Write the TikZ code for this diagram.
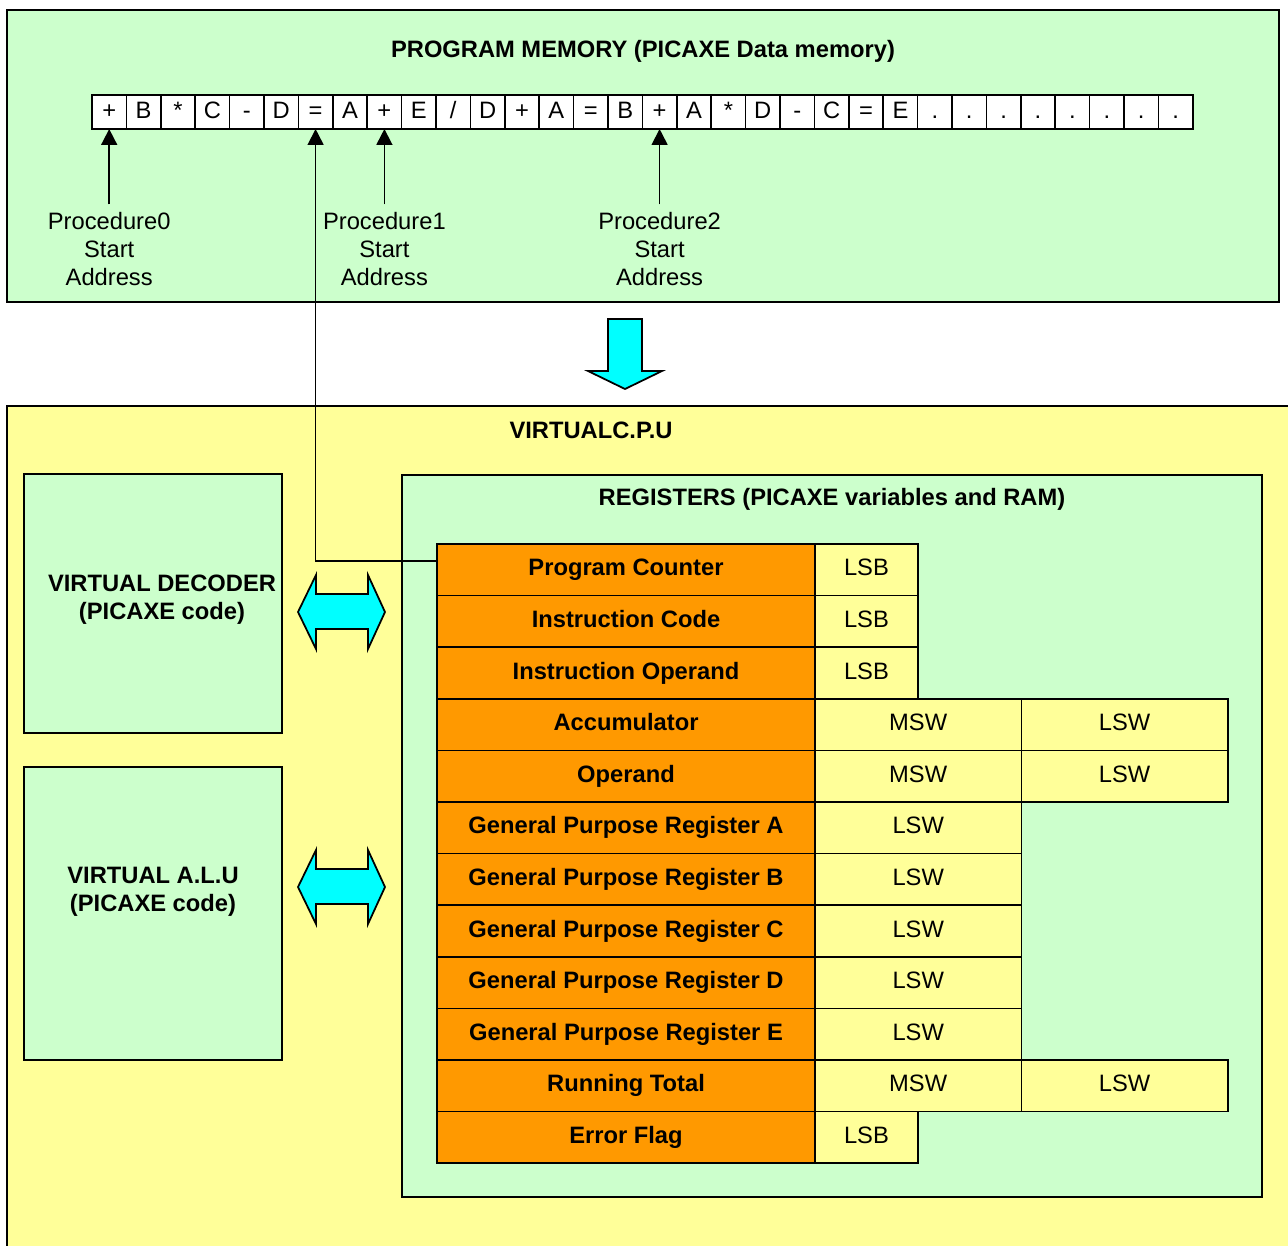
\documentclass[tikz,border=0pt]{standalone}
\usepackage{fontspec}
\setmainfont{Liberation Sans}
\usetikzlibrary{arrows.meta}

\definecolor{memgreen}{HTML}{CCFFCC}
\definecolor{cpuyellow}{HTML}{FFFF99}
\definecolor{regorange}{HTML}{FF9900}
\definecolor{buscyan}{RGB}{0,255,255}

\begin{document}
\fontsize{13.5}{15.8}\selectfont
\begin{tikzpicture}[x=0.02cm, y=-0.02cm]
        \tikzset{box/.style={draw, line width=1.1pt},
                 cell/.style={draw, line width=0.9pt, fill=white, minimum width=0.688cm, minimum height=0.68cm, inner sep=0pt, outer sep=0pt, text height=9.7pt, text depth=2.8pt},
                 regname/.style={draw, line width=0.9pt, fill=regorange, minimum width=7.56cm, minimum height=1.032cm, inner sep=0pt, outer sep=0pt, text height=9.7pt, text depth=2.8pt, font=\bfseries},
                 lsbcell/.style={draw, line width=0.9pt, fill=cpuyellow, minimum width=2.06cm, minimum height=1.032cm, inner sep=0pt, outer sep=0pt, text height=9.7pt, text depth=2.8pt, anchor=west},
                 wordcell/.style={lsbcell, minimum width=4.13cm},
                 pointer/.style={-{Triangle[length=9pt, width=9pt]}, line width=1pt},
                 bus/.style={draw, line width=1pt, fill=buscyan, line join=miter}}
        \useasboundingbox (0,0) rectangle (1288,1245);
        % program memory
        \draw[box, fill=memgreen] (7,10) rectangle (1279,302);
        \node[font=\bfseries] (memtitle) at (643,51) {PROGRAM MEMORY (PICAXE Data memory)};
        \foreach \s [count=\k from 0] in {+,B,*,C,-,D,=,A,+,E,/,D,+,A,=,B,+,A,*,D,-,C,=,E,.,.,.,.,.,.,.,.}
            \node[cell] (m\k) at ({109.2+34.4*\k},112) {\s};
        \node[align=center] (p0) at (m0 |- 0,249) {Procedure0\\Start\\Address};
        \node[align=center] (p1) at (m8 |- 0,249) {Procedure1\\Start\\Address};
        \node[align=center] (p2) at (m16 |- 0,249) {Procedure2\\Start\\Address};
        \draw[pointer] (p0) -- (m0);
        \draw[pointer] (p1) -- (m8);
        \draw[pointer] (p2) -- (m16);
        % transfer arrow
        \draw[bus] (608,319) -- (642,319) -- (642,371) -- (662,371) -- (625,389) -- (588,371) -- (608,371) -- cycle;
        % virtual cpu
        \draw[box, fill=cpuyellow] (7,406) rectangle (1320,1280);
        \node[font=\bfseries] (cputitle) at (591,430) {VIRTUALC.P.U};
        \draw[box, fill=memgreen] (24,474) rectangle (282,733);
        \node[font=\bfseries, align=center] (dectext) at (162,600) {VIRTUAL DECODER\\(PICAXE code)};
        \draw[box, fill=memgreen] (24,767) rectangle (282,1060);
        \node[font=\bfseries, align=center] (alutext) at (153,892) {VIRTUAL A.L.U\\(PICAXE code)};
        \foreach \yc in {612,887}
            \draw[bus] (298,\yc) -- (316,{\yc-37}) -- (316,{\yc-18}) -- (368,{\yc-18}) -- (368,{\yc-37}) -- (385,\yc)
                -- (368,{\yc+37}) -- (368,{\yc+17}) -- (316,{\yc+17}) -- (316,{\yc+37}) -- cycle;
        % registers
        \draw[box, fill=memgreen] (402,475) rectangle (1262,1197);
        \node[font=\bfseries] (regtitle) at (832,499) {REGISTERS (PICAXE variables and RAM)};
        \foreach \i/\txt in {1/Program Counter, 2/Instruction Code, 3/Instruction Operand, 4/Accumulator,
                             5/Operand, 6/General Purpose Register A, 7/General Purpose Register B,
                             8/General Purpose Register C, 9/General Purpose Register D,
                             10/General Purpose Register E, 11/Running Total, 12/Error Flag}
            \node[regname] (reg\i) at (626,{544+51.6*(\i-0.5)}) {\txt};
        \foreach \i in {1,2,3,12}
            \node[lsbcell] (lsb\i) at (reg\i.east) {LSB};
        \foreach \i in {4,5,11} {
            \node[wordcell] (msw\i) at (reg\i.east) {MSW};
            \node[wordcell] (lsw\i) at (msw\i.east) {LSW};
        }
        \foreach \i in {6,...,10}
            \node[wordcell] (lsw\i) at (reg\i.east) {LSW};
        % program counter points into memory
        \coordinate (pctap) at (437,561);
        \draw[pointer] (pctap) -| (m6);
\end{tikzpicture}
\end{document}
